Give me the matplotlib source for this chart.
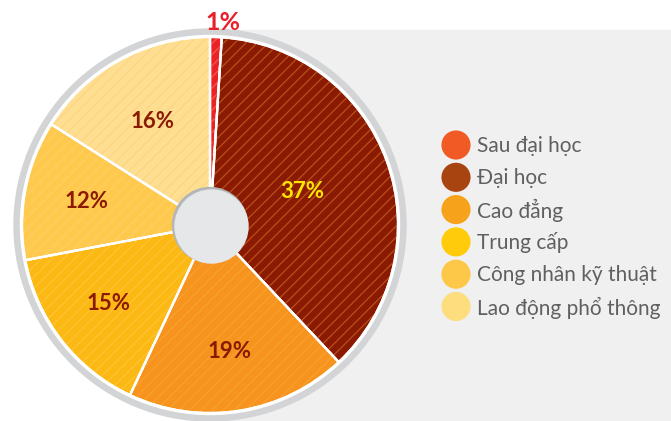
import numpy as np
import matplotlib
matplotlib.use("Agg")
import matplotlib.pyplot as plt
import matplotlib.patches as mpatches

# data
categories = ["Sau đại học", "Đại học", "Cao đẳng", "Trung cấp",
              "Công nhân kỹ thuật", "Lao động phổ thông"]
shares = [1, 37, 19, 15, 12, 16]
pct_labels = ["1%", "37%", "19%", "15%", "12%", "16%"]

pie_colors = ["#ec2227", "#8b1a03", "#f7941d", "#fdb913", "#fec94c", "#fedf92"]
stripe_colors = ["#f25a4a", "#b8501a", "#f8a030", "#fdc235", "#fecf62", "#fdd582"]
legend_colors = ["#f15a24", "#a84410", "#f7a21b", "#ffcb0b", "#fdc847", "#fedd7e"]
label_colors = ["#e8202a", "#ffe600", "#8b1a03", "#8b1a03", "#8b1a03", "#8b1a03"]

W, H = 671, 421
fig = plt.figure(figsize=(W / 100, H / 100), dpi=100)
ax = fig.add_axes([0, 0, 1, 1])

cx, cy = 210, H - 225
r_pie = 188

# light gray panel on the right
ax.add_patch(mpatches.Rectangle((210, 0), W - 210, H - 30, color="#f0f0f0", zorder=0))
# outer ring
ax.add_patch(mpatches.Circle((cx, cy), 196, color="#d3d4d6", zorder=1))
ax.add_patch(mpatches.Circle((cx, cy), 189.5, color="white", zorder=1))

plt.rcParams["hatch.linewidth"] = 0.9
wedges, _ = ax.pie(shares, colors=pie_colors, startangle=90, counterclock=False,
                   center=(cx, cy), radius=r_pie,
                   wedgeprops=dict(edgecolor="white", linewidth=1.6, zorder=2))
for w, sc in zip(wedges, stripe_colors):
    ax.add_patch(mpatches.Wedge((cx, cy), r_pie - 1, w.theta1, w.theta2, fill=False,
                                hatch="///", edgecolor=sc, linewidth=0, zorder=3))
    ax.add_patch(mpatches.Wedge((cx, cy), r_pie, w.theta1, w.theta2, fill=False,
                                edgecolor="white", linewidth=1.6, zorder=4))

# center hole
ax.add_patch(mpatches.Circle((cx, cy), 37.5, color="#b5b6b8", zorder=5))
ax.add_patch(mpatches.Circle((cx + 1.5, cy - 1.5), 36.5, color="#e6e7e8", zorder=6))

# percent labels
label_r = [None, 0.52, 0.68, 0.68, 0.67, 0.63]
for i, (w, txt) in enumerate(zip(wedges, pct_labels)):
    mid = np.deg2rad((w.theta1 + w.theta2) / 2)
    size = 16
    if label_r[i] is None:
        x, y = cx + 13, H - 23
        size = 18
    else:
        x = cx + label_r[i] * r_pie * np.cos(mid)
        y = cy + label_r[i] * r_pie * np.sin(mid)
    ax.text(x, y, txt, ha="center", va="center", fontsize=size, fontweight="bold",
            color=label_colors[i], family="Lato", zorder=7)

# legend
for i, (name, col) in enumerate(zip(categories, legend_colors)):
    y = H - (145 + i * 32.3)
    ax.scatter([456], [y], s=440, color=col, edgecolors="none", zorder=7)
    ax.text(477, y - 1, name, ha="left", va="center", fontsize=15, color="#606060",
            family="Lato", zorder=7)

ax.set_xlim(0, W)
ax.set_ylim(0, H)
ax.set_aspect("auto")
ax.axis("off")

fig.savefig("out.png", dpi=100)
